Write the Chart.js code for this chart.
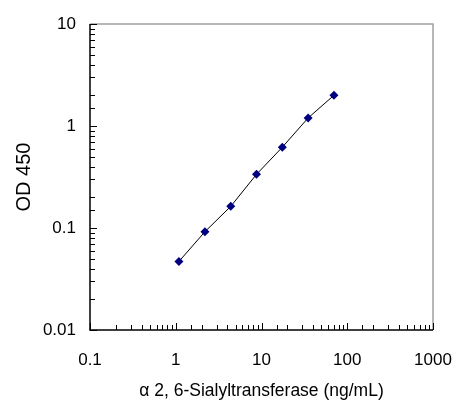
<!DOCTYPE html>
<html lang="en">
<head>
    <meta charset="UTF-8">
    <title>OD 450 standard curve</title>
    <script src="https://cdn.jsdelivr.net/npm/chart.js"></script>
    <style>
        body { margin: 0; padding: 0; background: #fff; }
        #wrap { width: 453px; height: 402px; }
    </style>
</head>
<body>
    <div id="wrap"><canvas id="curve"></canvas></div>

    <script>
        // concentration (ng/mL) and OD 450
        const concentration = [1.09, 2.19, 4.38, 8.75, 17.5, 35, 70];
        const od450 = [0.047, 0.092, 0.163, 0.336, 0.62, 1.2, 2.0];
        const xTickLabels = ['0.1', '1', '10', '100', '1000'];
        const yTickLabels = ['0.01', '0.1', '1', '10'];

        const fam = 'Liberation Sans, Arial, sans-serif';
        const font = { family: fam, size: 17 };

        function isDecade(v) {
            const l = Math.log10(v);
            return Math.abs(l - Math.round(l)) < 1e-6;
        }

        // inward ticks + grey top/right frame
        const frame = {
            id: 'frame',
            afterDraw(chart) {
                const ctx = chart.ctx;
                const a = chart.chartArea;
                const xs = chart.scales.x, ys = chart.scales.y;
                ctx.save();
                ctx.strokeStyle = '#a0a0a0';
                ctx.lineWidth = 1.5;
                ctx.beginPath();
                ctx.moveTo(a.left, a.top);
                ctx.lineTo(a.right, a.top);
                ctx.lineTo(a.right, a.bottom);
                ctx.stroke();

                ctx.strokeStyle = '#000';
                ctx.lineWidth = 1;
                ctx.beginPath();
                xs.ticks.forEach(t => {
                    const px = Math.round(xs.getPixelForValue(t.value)) + 0.5;
                    const len = isDecade(t.value) ? 7 : 5;
                    ctx.moveTo(px, a.bottom);
                    ctx.lineTo(px, a.bottom - len);
                });
                ys.ticks.forEach(t => {
                    const py = Math.round(ys.getPixelForValue(t.value)) + 0.5;
                    const len = isDecade(t.value) ? 7 : 5;
                    ctx.moveTo(a.left, py);
                    ctx.lineTo(a.left + len, py);
                });
                ctx.stroke();

                ctx.strokeStyle = '#000';
                ctx.lineWidth = 1.5;
                ctx.beginPath();
                ctx.moveTo(a.left, a.top);
                ctx.lineTo(a.left, a.bottom);
                ctx.lineTo(a.right, a.bottom);
                ctx.stroke();
                ctx.restore();
            }
        };

        new Chart(document.getElementById('curve'), {
            type: 'scatter',
            data: {
                datasets: [{
                    data: concentration.map((c, i) => ({ x: c, y: od450[i] })),
                    showLine: true,
                    borderColor: '#000',
                    borderWidth: 1,
                    pointStyle: 'rectRot',
                    pointRadius: 4.5,
                    pointBackgroundColor: '#000080',
                    pointBorderColor: '#000080',
                    pointBorderWidth: 0
                }]
            },
            options: {
                responsive: true,
                maintainAspectRatio: false,
                animation: false,
                layout: { padding: { left: 0, top: 24, right: 20, bottom: 0 } },
                plugins: { legend: { display: false }, tooltip: { enabled: false } },
                scales: {
                    x: {
                        type: 'logarithmic',
                        min: 0.1,
                        max: 1000,
                        grid: { display: false, drawTicks: false },
                        border: { display: false },
                        ticks: {
                            autoSkip: false,
                            maxRotation: 0,
                            padding: 20,
                            color: '#000',
                            font: font,
                            callback: v => isDecade(v) && xTickLabels.includes(String(+v.toPrecision(3))) ? String(+v.toPrecision(3)) : ''
                        },
                        title: {
                            display: true,
                            text: 'α 2, 6-Sialyltransferase (ng/mL)',
                            color: '#000',
                            font: { family: fam, size: 17.5 },
                            padding: { top: 8, bottom: 0 }
                        },
                        afterFit: s => { s.height = 72; s.paddingLeft = 0; s.paddingRight = 0; }
                    },
                    y: {
                        type: 'logarithmic',
                        min: 0.01,
                        max: 10,
                        grid: { display: false, drawTicks: false },
                        border: { display: false },
                        ticks: {
                            autoSkip: false,
                            padding: 14,
                            color: '#000',
                            font: font,
                            callback: v => isDecade(v) && yTickLabels.includes(String(+v.toPrecision(3))) ? String(+v.toPrecision(3)) : ''
                        },
                        title: {
                            display: true,
                            text: 'OD 450',
                            color: '#000',
                            font: { family: fam, size: 20 },
                            padding: { top: 12, bottom: 0 }
                        },
                        afterFit: s => { s.width = 90; s.paddingTop = 0; s.paddingBottom = 0; }
                    }
                }
            },
            plugins: [frame]
        });
    </script>
</body>
</html>
